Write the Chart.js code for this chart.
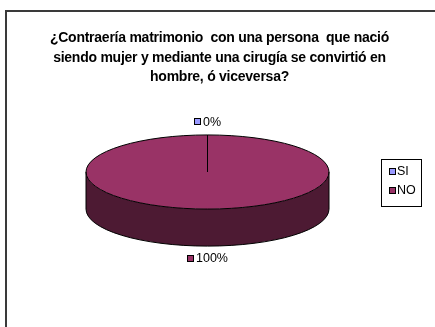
<!DOCTYPE html>
<html>
<head>
<meta charset="utf-8">
<script src="https://cdn.jsdelivr.net/npm/chart.js@4/dist/chart.umd.min.js"></script>
<style>
  html, body { margin: 0; padding: 0; background: #fff; }
  #wrap { position: relative; width: 435px; height: 327px; overflow: hidden; }
</style>
</head>
<body>
<div id="wrap"><canvas id="c" width="435" height="327"></canvas></div>
<script>
// Survey question and answers
const titleLines = [
  '¿Contraería matrimonio  con una persona  que nació',
  'siendo mujer y mediante una cirugía se convirtió en',
  'hombre, ó viceversa?'
];
const categories = ['SI', 'NO'];
const percentages = [0, 100];

// Slice colours (top face and darker side wall)
const topColors = ['#9999FF', '#993366'];
const sideColors = ['#4d4d80', '#4d1a33'];

const TILT = 0.305;   // vertical squash of the pie top
const DEPTH = 0.305;  // wall height relative to the radius
const FONT = '"Liberation Sans", Arial, sans-serif';

function pieGeom(chart) {
  const arcs = chart.getDatasetMeta(0).data;
  const a = arcs[0];
  const r = a.outerRadius;
  return { arcs, cx: a.x, cy: a.y, r, ry: r * TILT, d: r * DEPTH };
}

// parts of [s,e] lying on the front half (sin > 0)
function frontRanges(s, e) {
  const out = [];
  for (let n = -2; n <= 2; n++) {
    const lo = Math.max(s, 2 * Math.PI * n), hi = Math.min(e, 2 * Math.PI * n + Math.PI);
    if (hi > lo) out.push([lo, hi]);
  }
  return out;
}

const pie3d = {
  id: 'pie3d',
  beforeDraw(chart) {
    const ctx = chart.ctx;
    ctx.save();
    ctx.fillStyle = '#fff';
    ctx.fillRect(0, 0, chart.width, chart.height);
    // outer frame
    ctx.strokeStyle = '#3a3a3a';
    ctx.lineWidth = 2;
    ctx.strokeRect(6, 11, 600, 500);
    // title
    ctx.fillStyle = '#000';
    ctx.font = 'bold 14px ' + FONT;
    if ('letterSpacing' in ctx) ctx.letterSpacing = '-0.25px';
    ctx.textAlign = 'center';
    ctx.textBaseline = 'middle';
    const ys = [38, 58, 77];
    titleLines.forEach((t, i) => ctx.fillText(t, 219.5, ys[i]));
    if ('letterSpacing' in ctx) ctx.letterSpacing = '0px';
    ctx.restore();
  },
  beforeDatasetsDraw(chart) {
    const ctx = chart.ctx;
    const g = pieGeom(chart);
    // side walls
    ctx.save();
    g.arcs.forEach((arc, i) => {
      frontRanges(arc.startAngle, arc.endAngle).forEach(([lo, hi]) => {
        ctx.beginPath();
        ctx.ellipse(g.cx, g.cy, g.r, g.ry, 0, lo, hi, false);
        ctx.ellipse(g.cx, g.cy + g.d, g.r, g.ry, 0, hi, lo, true);
        ctx.closePath();
        ctx.fillStyle = sideColors[i];
        ctx.fill();
      });
    });
    ctx.restore();
    // squash the top faces drawn by the library
    ctx.save();
    ctx.translate(0, g.cy);
    ctx.scale(1, TILT);
    ctx.translate(0, -g.cy);
  },
  afterDatasetsDraw(chart) {
    const ctx = chart.ctx;
    ctx.restore();
    const g = pieGeom(chart);
    ctx.save();
    ctx.strokeStyle = '#000';
    ctx.lineWidth = 1;
    // top rim
    ctx.beginPath();
    ctx.ellipse(g.cx, g.cy, g.r, g.ry, 0, 0, Math.PI * 2);
    ctx.stroke();
    // wall outline
    ctx.beginPath();
    ctx.moveTo(g.cx + g.r, g.cy);
    ctx.lineTo(g.cx + g.r, g.cy + g.d);
    ctx.ellipse(g.cx, g.cy + g.d, g.r, g.ry, 0, 0, Math.PI, false);
    ctx.lineTo(g.cx - g.r, g.cy);
    ctx.stroke();
    // slice boundaries
    const seen = new Set();
    g.arcs.forEach(arc => {
      [arc.startAngle, arc.endAngle].forEach(a => {
        const key = ((a % (2 * Math.PI)) + 2 * Math.PI) % (2 * Math.PI);
        const k = key.toFixed(4);
        if (seen.has(k)) return;
        seen.add(k);
        ctx.beginPath();
        ctx.moveTo(g.cx, g.cy);
        ctx.lineTo(g.cx + g.r * Math.cos(a), g.cy + g.ry * Math.sin(a));
        ctx.stroke();
      });
    });
    // value labels
    ctx.font = '12.5px ' + FONT;
    ctx.textBaseline = 'middle';
    ctx.textAlign = 'left';
    g.arcs.forEach((arc, i) => {
      const mid = (arc.startAngle + arc.endAngle) / 2;
      const s = Math.sin(mid), c = Math.cos(mid);
      const px = g.cx + g.r * c;
      const py = g.cy + g.ry * s + (s > 0 ? g.d : 0);
      const lx = px + 12 * c, ly = py + 12.5 * s;
      const txt = percentages[i] + '%';
      const w = 7 + 2 + ctx.measureText(txt).width;
      const x0 = Math.round(lx - w / 2);
      ctx.fillStyle = topColors[i];
      ctx.fillRect(x0 + 0.5, Math.round(ly) - 3.5, 6, 6);
      ctx.strokeStyle = '#000';
      ctx.strokeRect(x0 + 0.5, Math.round(ly) - 3.5, 6, 6);
      ctx.fillStyle = '#000';
      ctx.fillText(txt, x0 + 9, ly);
    });
    // legend
    ctx.strokeStyle = '#000';
    ctx.strokeRect(381.5, 159.5, 40, 47);
    categories.forEach((name, i) => {
      const y = 172 + i * 19;
      ctx.fillStyle = topColors[i];
      ctx.fillRect(389.5, y - 3.5, 6, 6);
      ctx.strokeRect(389.5, y - 3.5, 6, 6);
      ctx.fillStyle = '#000';
      ctx.fillText(name, 397, y);
    });
    ctx.restore();
  }
};

new Chart(document.getElementById('c'), {
  type: 'pie',
  data: {
    labels: categories,
    datasets: [{
      data: percentages,
      backgroundColor: topColors,
      borderWidth: 0,
      clip: false
    }]
  },
  options: {
    responsive: false,
    animation: false,
    events: [],
    layout: { padding: { top: 50.5, bottom: 33.5, left: 86, right: 106 } },
    plugins: {
      legend: { display: false },
      title: { display: false },
      tooltip: { enabled: false }
    }
  },
  plugins: [pie3d]
});
</script>
</body>
</html>
